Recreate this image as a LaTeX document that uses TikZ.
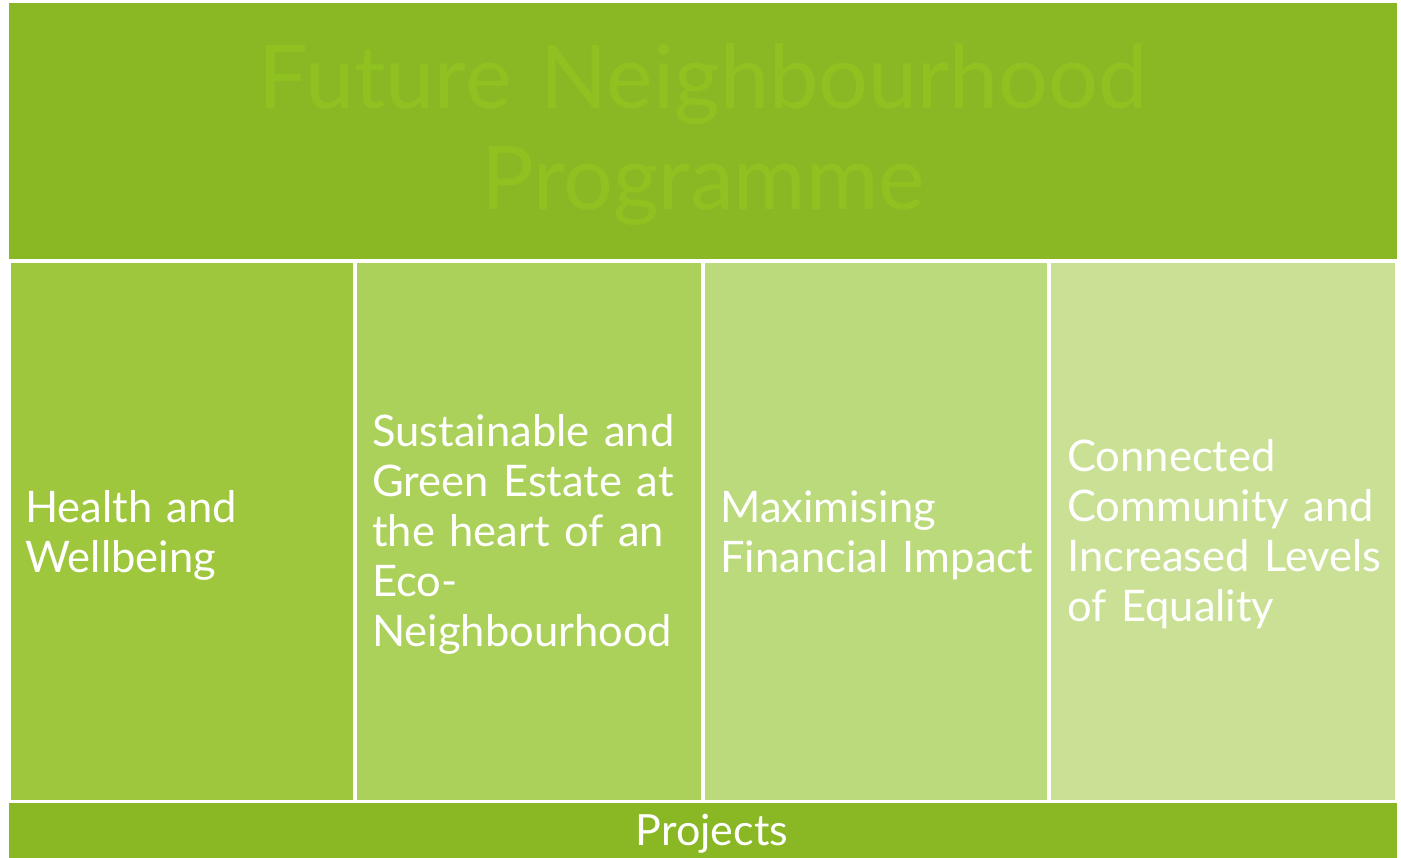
\documentclass[tikz,border=0pt]{standalone}
\usepackage{fontspec}
\setmainfont{Lato}
\definecolor{topgreen}{HTML}{8AB825}
\definecolor{titlegreen}{HTML}{8FC220}
\definecolor{colA}{HTML}{9FC73D}
\definecolor{colB}{HTML}{ABD15B}
\definecolor{colC}{HTML}{BBDA7B}
\definecolor{colD}{HTML}{CAE195}
\tikzset{
  panel/.style={fill=#1, draw=none},
  coltext/.style={anchor=base west, text=white, text width=330pt, align=left,
    inner sep=0pt, font=\fontsize{43.5}{50}\selectfont},
}
\begin{document}
\begin{tikzpicture}[x=1pt,y=-1pt]
  \useasboundingbox (0,0) rectangle (1401,858);
  \fill[white] (0,0) rectangle (1401,858);

  % header band and footer band
  \path[panel=topgreen] (9,3) rectangle (1397,259);
  \path[panel=topgreen] (9,803) rectangle (1397,858);

  % the four theme columns
  \path[panel=colA] (11,263) rectangle (353,800);
  \path[panel=colB] (357,263) rectangle (701,800);
  \path[panel=colC] (705,263) rectangle (1047,800);
  \path[panel=colD] (1051,263) rectangle (1395,800);

  % header title (fixed text width keeps the first line as the base)
  \node[anchor=base, text=titlegreen, text width=1380pt, align=center,
    inner sep=0pt, font=\fontsize{88}{101}\selectfont] (title) at (703,109)
    {Future Neighbourhood\\Programme};

  \node[coltext] (health) at (25,522) {Health and\\Wellbeing};
  \node[coltext] (green) at (372,447)
    {Sustainable and\\Green Estate at\\the heart of an\\Eco-\\Neighbourhood};
  \node[coltext] (finance) at (720,522) {Maximising\\Financial Impact};
  \node[coltext] (community) at (1067,472)
    {Connected\\Community and\\Increased Levels\\of Equality};

  \node[anchor=base, text=white, inner sep=0pt,
    font=\fontsize{43}{48}\selectfont] (projects) at (712,845) {Projects};
\end{tikzpicture}
\end{document}
